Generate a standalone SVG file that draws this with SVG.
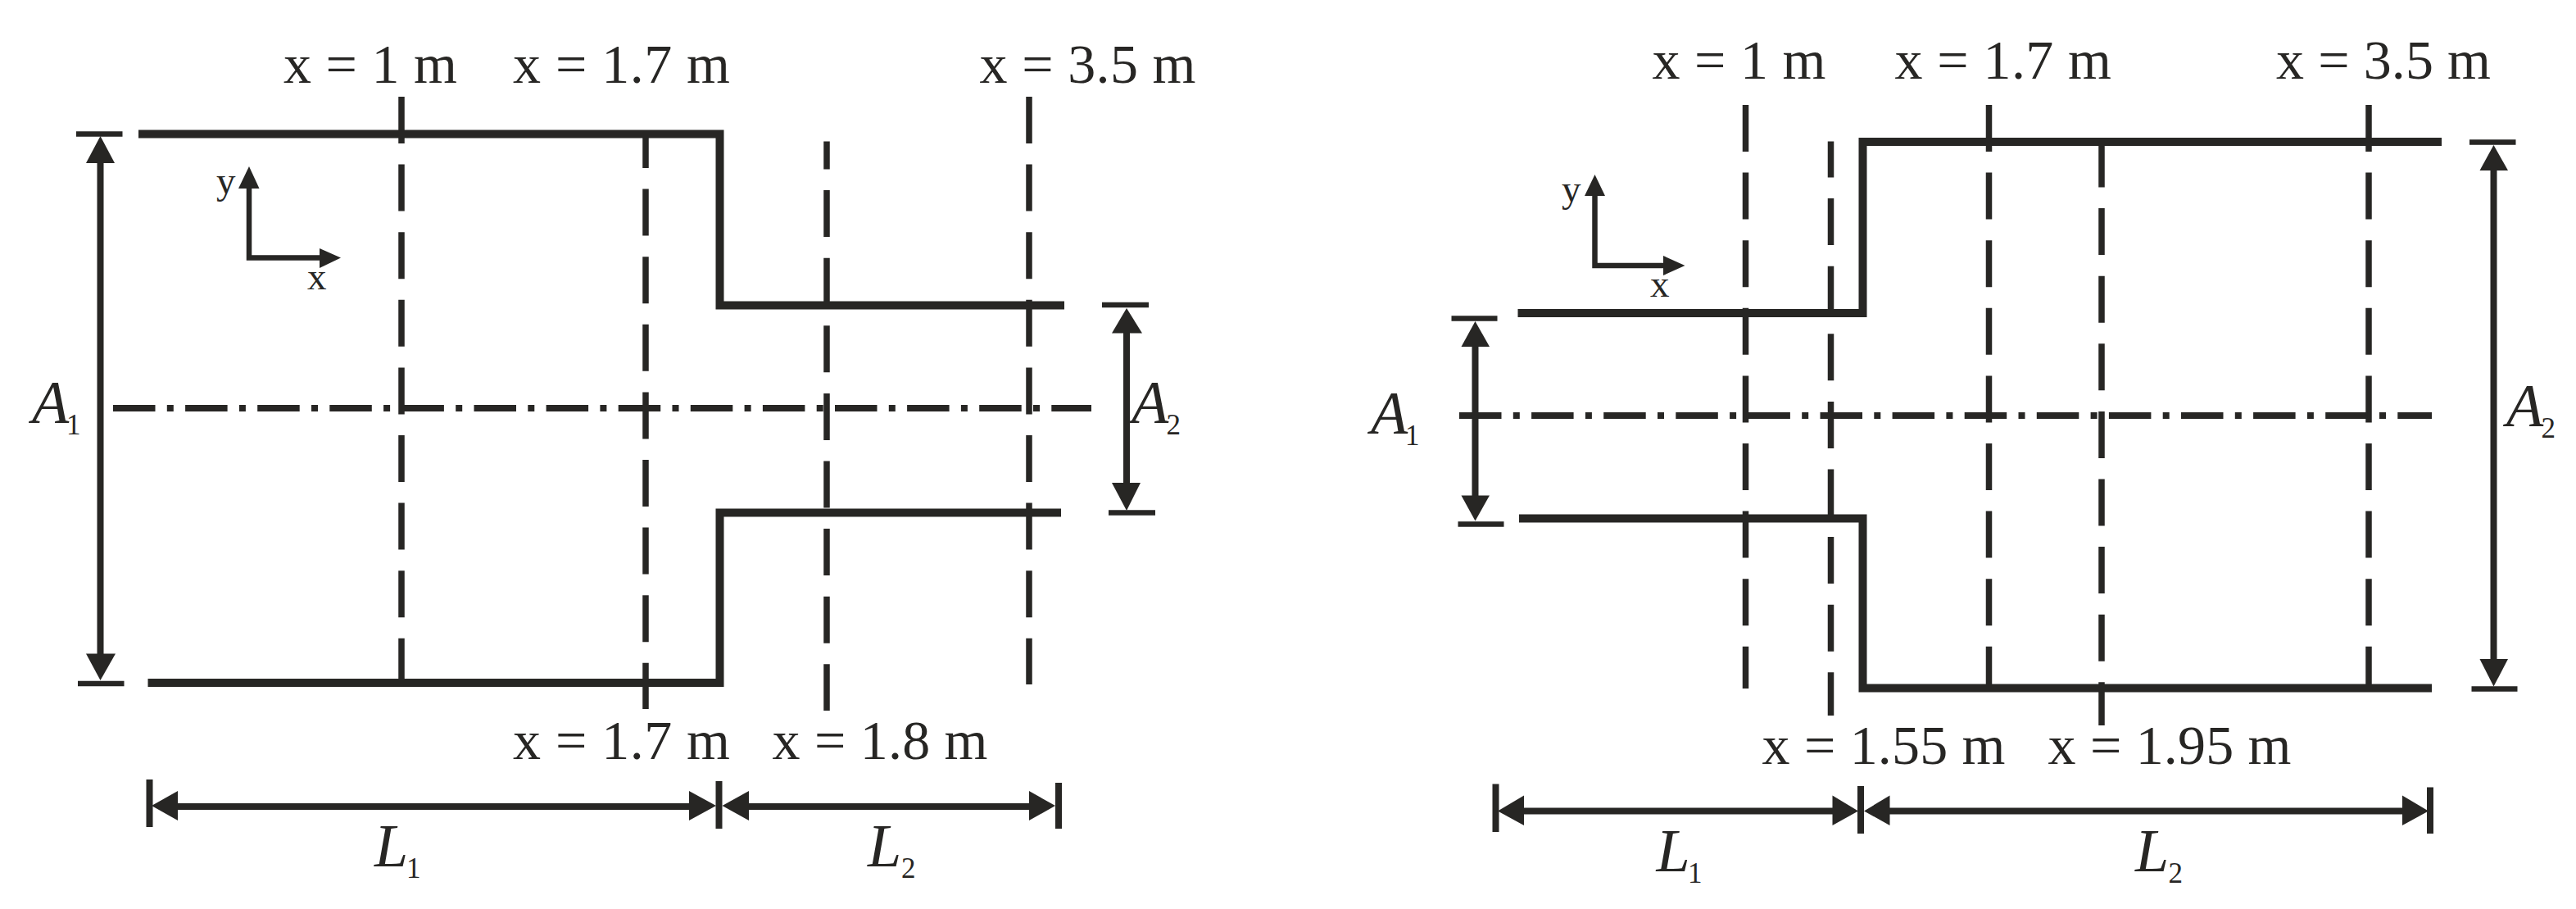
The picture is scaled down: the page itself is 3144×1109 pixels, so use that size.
<svg xmlns="http://www.w3.org/2000/svg" width="3144" height="1109" viewBox="0 0 3144 1109">
<style>
.wall{fill:none;stroke:#272624;stroke-width:10;stroke-linejoin:miter}
.sec{fill:none;stroke:#272624;stroke-width:7.5}
.d1{stroke-dasharray:57 25.6}
.ctr{fill:none;stroke:#272624;stroke-width:8;stroke-dasharray:51.5 14.3 8 14.3}
.dim{fill:none;stroke:#272624;stroke-width:8}
.cap{fill:none;stroke:#272624;stroke-width:6.5}
.ax{fill:none;stroke:#272624;stroke-width:6.5}
.hd{fill:#272624;stroke:none}
text{font-family:"Liberation Serif","Times New Roman",serif;fill:#272624}
.lb{font-size:68px}
.ax-t{font-size:47px}
.sym{font-size:74px;font-style:italic}
.sub{font-size:35px}
</style>
<rect width="3144" height="1109" fill="#ffffff"/>
<g id="left-duct">
<g id="left-sections">
<path class="sec d1" d="M490 118V830"/>
<path class="sec d1" stroke-dashoffset="15" d="M788 163V865"/>
<path class="sec d1" stroke-dashoffset="23" d="M1009 172.500V867"/>
<path class="sec d1" d="M1256 118V835"/>
</g>
<path id="left-center" class="ctr" d="M138 498H1332"/>
<path id="left-wall-top" class="wall" d="M169 163.500H878.500V372.500H1299"/>
<path id="left-wall-bottom" class="wall" d="M180.500 833H878.500V625.500H1295"/>
<g id="left-axes">
<path class="ax" d="M304 230V314.500H392"/>
<polygon class="hd" points="304,203 316.500,230 291,230"/>
<polygon class="hd" points="416,314.500 390,303 390,327"/>
<text class="ax-t" x="264" y="236">y</text>
<text class="ax-t" x="375" y="353">x</text>
</g>
<g id="left-labels">
<text class="lb" x="346" y="100.500" textLength="212">x = 1 m</text>
<text class="lb" x="626" y="100.500" textLength="265">x = 1.7 m</text>
<text class="lb" x="1195.500" y="100.500" textLength="264">x = 3.5 m</text>
<text class="lb" x="626" y="925.500" textLength="265">x = 1.7 m</text>
<text class="lb" x="942.500" y="925.500" textLength="263">x = 1.8 m</text>
</g>
<g id="left-dim-a1">
<path class="dim" d="M122.500 190V805"/>
<path class="cap" d="M93 163.500H149.500M95 834H151.500"/>
<polygon class="hd" points="122.500,166 140,199 105,199"/>
<polygon class="hd" points="122.500,830 105,797.500 141,797.500"/>
<text class="sym" x="39" y="515.500">A</text><text class="sub" x="81" y="529.500">1</text>
</g>
<g id="left-dim-a2">
<path class="dim" d="M1375 400V595"/>
<path class="cap" d="M1345 372H1402M1353 625.500H1410"/>
<polygon class="hd" points="1375,376 1394,406.500 1357,406.500"/>
<polygon class="hd" points="1375,623 1357,589 1392,589"/>
<text class="sym" x="1381" y="515.500">A</text><text class="sub" x="1423.500" y="529.500">2</text>
</g>
<g id="left-dim-l">
<path class="dim" d="M210 984H850M905 984H1265M182.500 951V1009M877.500 953V1011M1292 955V1011"/>
<polygon class="hd" points="185,983 217,965 217,1001"/>
<polygon class="hd" points="874,983 841,965 841,1001"/>
<polygon class="hd" points="881.500,983 914,965 914,1001"/>
<polygon class="hd" points="1288,983 1256,965 1256,1001"/>
<text class="sym" x="457" y="1057">L</text><text class="sub" x="496" y="1071">1</text>
<text class="sym" x="1059" y="1057">L</text><text class="sub" x="1100" y="1071">2</text>
</g>
</g>
<g id="right-duct">
<g id="right-sections">
<path class="sec d1" d="M2130.500 128V840"/>
<path class="sec d1" stroke-dashoffset="13" d="M2234.500 172.500V873"/>
<path class="sec d1" d="M2427.500 128V838"/>
<path class="sec d1" stroke-dashoffset="1.500" d="M2565 173V885"/>
<path class="sec d1" d="M2891 128V838"/>
</g>
<path id="right-center" class="ctr" d="M1781 507H2968"/>
<path id="right-wall-top" class="wall" d="M1852.500 382H2273.500V173H2980"/>
<path id="right-wall-bottom" class="wall" d="M1854 632.500H2273.500V839.500H2968"/>
<g id="right-axes">
<path class="ax" d="M1946.500 239V324H2032"/>
<polygon class="hd" points="1946.500,213 1959,239 1934,239"/>
<polygon class="hd" points="2056.500,324 2030,312 2030,336"/>
<text class="ax-t" x="1906" y="245.500">y</text>
<text class="ax-t" x="2014" y="362">x</text>
</g>
<g id="right-labels">
<text class="lb" x="2016.500" y="95.500" textLength="212">x = 1 m</text>
<text class="lb" x="2312.500" y="95.500" textLength="264.500">x = 1.7 m</text>
<text class="lb" x="2778" y="95.500" textLength="262">x = 3.5 m</text>
<text class="lb" x="2150.500" y="931.500" textLength="297">x = 1.55 m</text>
<text class="lb" x="2499.500" y="931.500" textLength="297">x = 1.95 m</text>
</g>
<g id="right-dim-a1">
<path class="dim" d="M1800.500 415V612"/>
<path class="cap" d="M1771.500 388.500H1827.500M1779.500 639.500H1835.500"/>
<polygon class="hd" points="1800.500,392 1818,423 1783.500,423"/>
<polygon class="hd" points="1800.500,635.500 1783.500,604.500 1818,604.500"/>
<text class="sym" x="1673" y="529">A</text><text class="sub" x="1715" y="543">1</text>
</g>
<g id="right-dim-a2">
<path class="dim" d="M3043.500 200V812"/>
<path class="cap" d="M3014 173.500H3070.500M3016.500 840.500H3072.500"/>
<polygon class="hd" points="3043.500,177 3061,208 3026.500,208"/>
<polygon class="hd" points="3043.500,837.500 3026.500,804 3061,804"/>
<text class="sym" x="3059" y="519.500">A</text><text class="sub" x="3101.500" y="534">2</text>
</g>
<g id="right-dim-l">
<path class="dim" d="M1855 989.500H2245M2300 989.500H2940M1825.500 956.500V1015M2271 959V1017M2966 960.500V1017"/>
<polygon class="hd" points="1828,989.500 1860,970.500 1860,1007"/>
<polygon class="hd" points="2268,989.500 2236.500,970.500 2236.500,1007"/>
<polygon class="hd" points="2275,989.500 2306.500,970.500 2306.500,1007"/>
<polygon class="hd" points="2964,989.500 2932,970.500 2932,1007"/>
<text class="sym" x="2021.500" y="1063">L</text><text class="sub" x="2060" y="1076.500">1</text>
<text class="sym" x="2606" y="1063">L</text><text class="sub" x="2646.500" y="1076.500">2</text>
</g>
</g>
</svg>
